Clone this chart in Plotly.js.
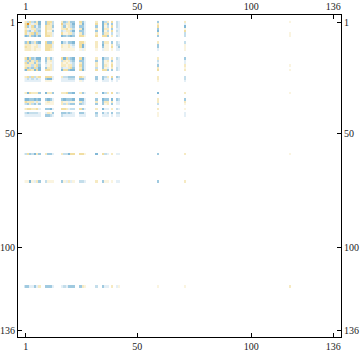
<!DOCTYPE html>
<html><head><meta charset="utf-8">
<script src="https://cdn.plot.ly/plotly-3.0.1.min.js"></script>
<style>html,body{margin:0;padding:0;background:#fff}</style></head>
<body><div id="chart" style="width:360px;height:353px"></div>
<script>
const size = 136;
const tickValues = [1, 50, 100, 136];
const activeIndices = [1,2,3,4,5,6,7,10,11,12,13,17,18,19,20,21,22,25,26,27,32,35,36,37,39,41,42,59,71,117];
const cellValues = [
[ 2,-2, 3,-2,-3, 2,-4, -3, 3, 3,-2,  2,-3,-2, 2,-3,-3,  3,-3,-1,  2, -4,-2, 2,  3, -2,-1, -3, 2, 1],
[ 3, 9, 2,-1, 2, 2,-4, -3, 3, 2,-2,  4,-2, 2, 2,-2,-4,  2,-4,-1,  3, -4, 2,-3, -3, -2,-1,  2,-1, 0],
[ 3,-3,-1, 3,-3,-1,-3,  3, 2, 2,-3,  2,-3, 1, 2,-2,-3, -3,-3,-1, -3, -4, 1,-2,  3, -2,-1,  3,-4, 0],
[ 2, 1,-1, 2, 2,-2,-2,  3, 2, 2,-1,  2, 2, 3, 1, 2,-2,  2,-4,-1,  2, -4, 2, 2, -3, -1,-1, -3, 1, 0],
[ 3,-2,-3,-1, 3,-2,-3,  3, 1, 1,-3, -2,-1, 2, 2,-2,-4, -3,-3,-1, -3, -4, 1,-2,  3, -2,-1, -4, 3, 0],
[ 3,-1, 2, 3,-3, 3,-2,  3, 2, 2,-1,  3, 1, 1, 2, 2,-2,  2,-3,-1,  2, -3, 2, 2, -2, -1,-1,  2,-2, 1],
[-4,-3, 2,-3,-4,-2,-4,  3, 3, 2,-1, -4,-3,-2,-3,-4,-3,  3, 3, 1,  3,  3, 3,-3,  2, -2,-1, -3,-2, 1],
[-3, 3,-4,-2, 2,-3,-4,  3,-3,-3, 2, -4,-2,-1,-3,-3,-4,  3, 3, 1,  2, -3, 2, 2, -3, -2,-1,  2,-2, 0],
[ 2, 2, 2, 1, 1, 2,-1,  3, 3, 3,-1,  2, 1, 1, 2,-1,-2,  3,-4,-1,  2, -4, 1, 1,  2, -2,-2, -3, 1, 0],
[ 3, 2, 2, 1, 2, 2,-1,  3, 3, 3,-1,  2, 1, 1, 2, 1,-1,  3,-4,-1,  2, -3, 1, 1,  3, -1,-3, -3, 1, 0],
[ 2, 2, 2, 1, 2, 1, 1,  3, 3, 2, 1,  1, 1, 1, 1, 1, 1,  1,-1, 1,  1, -1, 1, 1,  1, -1,-1, -1, 1, 0],
[ 3,-4, 3,-3,-2,-4,-4, -3, 2,-3,-1,  3,-4, 3,-2,-3,-4,  3,-4,-1,  2, -4,-2,-2,  2, -2,-1,  2,-3, 0],
[-2, 3,-3, 2,-2, 3,-3, -3, 1, 2,-1, -2, 2, 1, 2,-2,-3, -3,-3,-1, -3, -3, 1, 2, -3, -1,-1, -2,-1, 0],
[ 3,-3, 2, 2,-3, 2,-2, -2, 1, 1,-1,  2, 1, 2, 1,-1,-2,  2,-3,-1,  2, -3, 1, 1,  2, -1,-1, -1,-1, 0],
[ 2, 2, 2,-2, 2, 3,-3, -1, 1, 2,-1,  2, 2, 1, 2, 2,-2,  3,-3,-1,  2, -3, 2, 1,  3, -1,-1, -3, 2, 1],
[ 3,-3,-2,-3, 3,-2,-4, -3, 2, 2,-1, -2,-1,-1, 2, 3,-3,  2,-3,-1, -2, -3, 1,-1,  2, -2,-1,  2, 1, 0],
[-4, 3, 3, 2,-4, 3,-4,  3, 3, 2,-1, -4, 3, 3,-3,-4,-4,  3,-4,-1,  3,  3, 3,-3, -3, -2,-1,  3, 2, 1],
[ 2, 3,-2, 3,-2, 2, 3,  3, 3, 3,-1,  2,-2,-2,-3,-3,-3,  3, 2,-1, -3, -3,-2, 2,  3, -3,-2,  2,-2, 0],
[-1,-2,-1,-2,-1,-2,-1, -3,-4,-4,-1, -1,-1,-1,-2,-2,-2, -3,-3,-1, -3, -3,-1,-1, -3, -1,-1,  2,-2, 0],
[-1,-1,-1,-1,-1,-1,-1,  1, 1, 1, 0, -1,-1,-1,-1,-1,-1,  1,-1, 0, -1, -1,-1,-1, -1, -1, 0,  1,-1, 0],
[ 2,-4, 3, 2, 2, 2,-3, -4, 2, 2,-3,  2, 2, 3,-3,-3,-4,  2,-3,-1,  2, -4,-2, 2,  3, -2,-1, -4, 2, 1],
[-4,-4,-3,-3,-4,-3,-4, -3,-4,-3,-1, -3,-4,-3,-3,-3,-4, -4,-4,-1, -3, -4,-3,-3, -4, -3,-2,  2,-3, 0],
[ 3, 2, 2, 2,-1, 2,-1,  1, 2, 1, 1,  2, 1, 1,-1, 1, 1,  2,-2,-1,  2, -3, 2, 2,  2, -1,-1,  2, 2, 0],
[-2,-3, 2,-2,-3,-1,-3,  1, 1, 1, 1,  2,-2, 2,-2,-3,-3, -3,-2,-1, -3, -3, 1, 2, -3, -1,-1, -2, 1, 0],
[ 2, 3, 3, 2, 2, 3,-1, -3,-3,-4,-1,  3, 3, 2,-1,-2,-2,  3,-3,-1,  2, -4,-1,-1,  2, -2,-1,  2, 1, 0],
[-2,-3,-2,-2,-2,-2,-1, -1, 2, 1,-3, -3,-3,-2,-3,-2,-1, -3,-3,-1, -3, -3,-1,-2, -3, -2,-2,  1,-1, 0],
[-1,-1,-1,-1,-1,-1,-1, -3,-3,-2,-1, -2,-1,-1,-1,-1,-1, -1,-1,-1, -2, -1,-1,-1, -1, -1,-1,  1,-1, 0],
[-2, 3,-3,-2,-4, 2,-3,  2,-3,-3,-1,  2,-2,-2,-4, 3, 3,  3, 3, 1, -4,  3,-2,-1,  2, -1,-1, -3, 2, 1],
[ 1, 1,-4, 1,-1, 2,-3, -2, 1, 1, 1, -3, 1,-1, 2,-1, 1, -2,-2,-1,  2, -3, 1, 1,  1, -1,-1, -3, 2, 0],
[-3,-3,-1,-1,-3,-1, 2, -3,-3,-3,-1, -1,-2,-1,-3,-3,-3, -3, 2, 1, -2, -3,-1,-1,  2, -1, 1,  1, 1, 2]
];

// Expand the active rows and columns into the full matrix
const zMatrix = [];
const axisLabels = [];
for (let i = 1; i <= size; i++) { axisLabels.push(i); zMatrix.push(new Array(size).fill(0)); }
activeIndices.forEach((r, i) => activeIndices.forEach((c, j) => { zMatrix[r-1][c-1] = cellValues[i][j]; }));

const xRange = [-2.38, 139.4];
const yRange = [139.07, -2.1];
const tickFont = {family: 'Liberation Serif, serif', size: 10, color: '#222'};
const axisBase = {
  tickmode: 'array', tickvals: tickValues, ticktext: tickValues.map(String),
  ticks: 'inside', ticklen: 4, tickwidth: 1, tickcolor: '#000',
  showline: true, linecolor: '#000', linewidth: 1,
  showgrid: false, zeroline: false, tickfont: tickFont, fixedrange: true
};
const data = [
  {type: 'heatmap', x: axisLabels, y: axisLabels, z: zMatrix, zmin: -9, zmax: 9, showscale: false,
   hoverinfo: 'skip', xgap: 0, ygap: 0,
   colorscale: [[0, '#5a9cc4'], [0.278, '#82b8d6'], [0.333, '#a0cae0'], [0.389, '#c4deeb'], [0.444, '#e4eff6'], [0.5, '#ffffff'],
                [0.556, '#faf4e0'], [0.611, '#f6eac2'], [0.667, '#f1dea2'], [1, '#df9226']]},
  {type: 'scatter', mode: 'markers', x: [null], y: [null], xaxis: 'x2', yaxis: 'y2', hoverinfo: 'skip', showlegend: false}
];
const layout = {
  width: 360, height: 353, autosize: false, showlegend: false,
  margin: {l: 18, r: 19, t: 15, b: 16, pad: 0},
  paper_bgcolor: '#fff', plot_bgcolor: '#fff',
  xaxis: Object.assign({}, axisBase, {range: xRange, side: 'bottom', anchor: 'y'}),
  yaxis: Object.assign({}, axisBase, {range: yRange, side: 'left', anchor: 'x'}),
  xaxis2: Object.assign({}, axisBase, {range: xRange, side: 'top', overlaying: 'x', anchor: 'y'}),
  yaxis2: Object.assign({}, axisBase, {range: yRange, side: 'right', overlaying: 'y', anchor: 'x'})
};
Plotly.newPlot('chart', data, layout, {displayModeBar: false, staticPlot: true});
</script></body></html>
